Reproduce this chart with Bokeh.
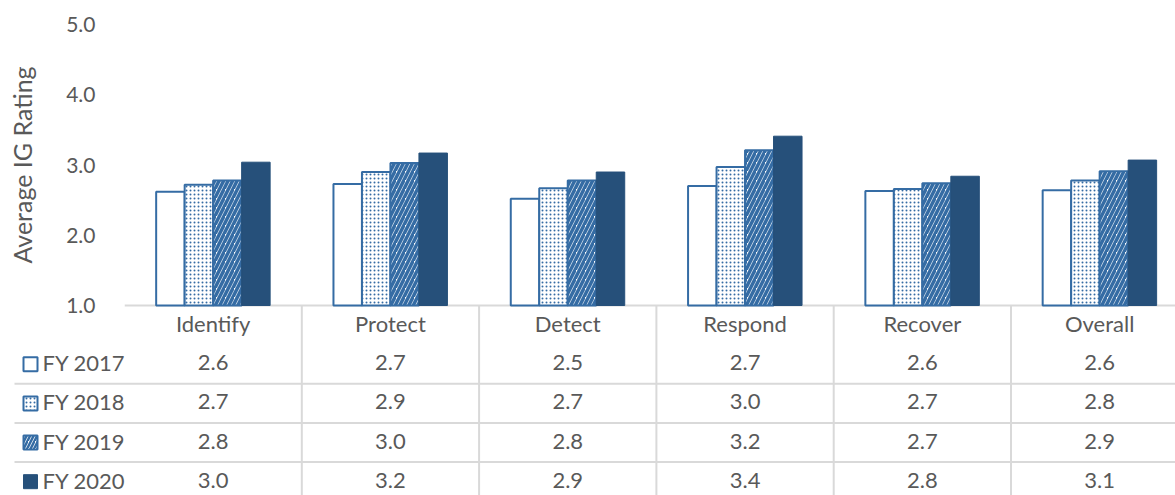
from math import pi
from bokeh.plotting import figure
from bokeh.models import Range1d, FixedTicker, NumeralTickFormatter, ColumnDataSource
from bokeh.core.properties import value
from bokeh.embed import file_html
from bokeh.resources import INLINE

# ---- data ----
categories = ["Identify", "Protect", "Detect", "Respond", "Recover", "Overall"]
series = ["FY 2017", "FY 2018", "FY 2019", "FY 2020"]
fy2017 = [2.62, 2.73, 2.52, 2.70, 2.63, 2.64]
fy2018 = [2.72, 2.90, 2.67, 2.97, 2.66, 2.78]
fy2019 = [2.78, 3.03, 2.78, 3.21, 2.74, 2.91]
fy2020 = [3.04, 3.17, 2.90, 3.41, 2.84, 3.07]
y_ticks = [1.0, 2.0, 3.0, 4.0, 5.0]
y_label = "Average IG Rating"

values = [fy2017, fy2018, fy2019, fy2020]

# ---- style ----
FONT = "Lato"
TXT = "#595959"
GRID = "#d9d9d9"
EDGE = "#356ca4"
DARK = "#26507a"

W, H = 1175, 495
LEFT = 124          # frame left in px
PITCH = 177.3       # px per category
YTOP, YBASE = 24.0, 305.0   # px of 5.0 and 1.0
PXU = (YBASE - YTOP) / 4.0
ROW = 39.15         # table row pitch in px
TSHIFT = 1.5        # text lift in px

x_end = (W - LEFT) / PITCH
y_start = 1.0 - (H - YBASE) / PXU
y_end = 5.0 + YTOP / PXU
t_top = (0 - YBASE) / ROW - 0.5
t_bot = (H - YBASE) / ROW - 0.5
ts = TSHIFT / ROW

def px2x(px):
    return (px - LEFT) / PITCH

p = figure(width=W, height=H, output_backend="svg", toolbar_location=None,
           x_range=Range1d(0, x_end), y_range=Range1d(y_start, y_end),
           x_axis_location=None, y_axis_location="left",
           min_border_left=LEFT, min_border_right=0, min_border_top=0, min_border_bottom=0)
p.extra_y_ranges = {"tbl": Range1d(start=t_bot, end=t_top)}
p.outline_line_color = None
p.xgrid.visible = False
p.ygrid.visible = False
p.background_fill_color = "white"
p.border_fill_color = "white"

ax = p.yaxis[0]
ax.ticker = FixedTicker(ticks=y_ticks)
ax.formatter = NumeralTickFormatter(format="0.0")
ax.axis_line_color = None
ax.major_tick_line_color = None
ax.minor_tick_line_color = None
ax.major_label_standoff = 23
ax.major_label_text_font = FONT
ax.major_label_text_font_size = "21px"
ax.major_label_text_color = TXT

# baseline
p.segment(x0=[0], y0=[y_ticks[0]], x1=[x_end], y1=[y_ticks[0]], line_color=GRID, line_width=2)

# bars
ncat = len(categories)
bw = 0.1607
styles = [
    dict(fill_color="white", line_color=EDGE, line_width=2),
    dict(fill_color="white", line_color=EDGE, line_width=2, hatch_pattern="dot",
         hatch_color=EDGE, hatch_scale=4, hatch_weight=1.5),
    dict(fill_color="white", line_color=EDGE, line_width=2, hatch_pattern="right_diagonal_line",
         hatch_color=EDGE, hatch_scale=9, hatch_weight=3.5),
    dict(fill_color=DARK, line_color=DARK, line_width=1),
]
for i, (vals, st) in enumerate(zip(values, styles)):
    xs = [k + 0.5 + (i - 1.5) * bw for k in range(ncat)]
    src = ColumnDataSource(dict(x=xs, top=vals))
    p.vbar(x="x", top="top", bottom=y_ticks[0], width=bw, source=src, **st)

# table: vertical lines
p.segment(x0=list(range(1, ncat)), y0=[-0.5] * (ncat - 1), x1=list(range(1, ncat)),
          y1=[t_bot + 1] * (ncat - 1), y_range_name="tbl", line_color=GRID, line_width=2)
# horizontal lines
rows = [1.5, 2.5, 3.5]
p.segment(x0=[px2x(14)] * 3, y0=rows, x1=[x_end] * 3, y1=rows, y_range_name="tbl",
          line_color=GRID, line_width=2, level="overlay")

# header and values
txt_kw = dict(y_range_name="tbl", text_baseline="middle", text_font=value(FONT),
              text_font_size="22px", text_color=TXT)
p.text(x=[k + 0.5 for k in range(ncat)], y=[0 - ts] * ncat, text=categories,
       text_align="center", **txt_kw)
for i, vals in enumerate(values):
    p.text(x=[k + 0.5 for k in range(ncat)], y=[i + 1 - ts] * ncat,
           text=[f"{v:.1f}" for v in vals], text_align="center", **txt_kw)

# legend keys in the table
for i, st in enumerate(styles):
    kw = dict(st)
    kw["line_width"] = 2 if i < 3 else 1
    if i == 2:
        kw["hatch_scale"] = 7
        kw["hatch_weight"] = 2.5
    p.rect(x=[px2x(30)], y=[i + 1], width=14, height=14, width_units="screen",
           height_units="screen", y_range_name="tbl", level="overlay", **kw)

lab_src = ColumnDataSource(dict(x=[px2x(42)] * 4, y=[r - ts for r in [1, 2, 3, 4]], t=series))
p.text(x="x", y="y", text="t", source=lab_src, text_align="left", level="overlay", **txt_kw)

# axis title
p.text(x=[px2x(21)], y=[3.0], text=[y_label], angle=pi / 2, text_align="center",
       text_baseline="middle", text_font=value(FONT), text_font_size="25px",
       text_color=TXT, level="overlay")

open("out.html", "w").write(file_html(p, INLINE))
